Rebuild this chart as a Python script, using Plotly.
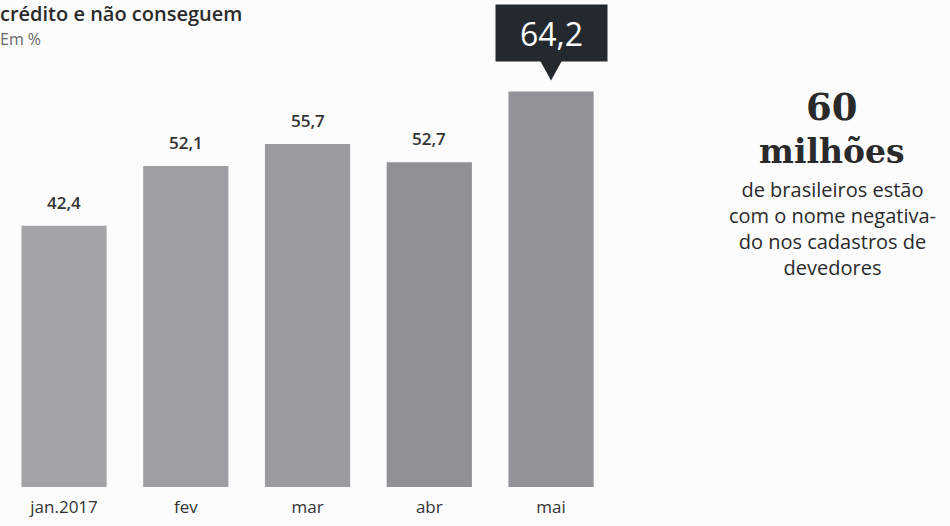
import plotly.graph_objects as go

categories = ["jan.2017", "fev", "mar", "abr", "mai"]
values = [42.4, 52.1, 55.7, 52.7, 64.2]
value_labels = ["42,4", "52,1", "55,7", "52,7", "64,2"]
bar_colors = ["#a2a4a8", "#9d9fa2", "#9a9c9f", "#909195", "#929398"]
highlight_index = 4

title_text = "crédito e não conseguem"
unit_text = "Em %"
side_number = "60"
side_unit = "milhões"
side_lines = ["de brasileiros estão", "com o nome negativa-", "do nos cadastros de", "devedores"]

W, H = 950, 526
ML, MR, MT, MB = 0, 310, 0, 39
PW, PH = W - ML - MR, H - MT - MB


def px(x):
    return (x - ML) / PW


def py(y):
    return 1 - (y - MT) / PH


fig = go.Figure()
fig.add_trace(go.Bar(
    x=categories, y=values,
    marker=dict(color=bar_colors, line=dict(width=0)),
    width=0.70, hoverinfo="skip",
))

annotations = []
for i, (c, v, lab) in enumerate(zip(categories, values, value_labels)):
    if i == highlight_index:
        annotations.append(dict(
            x=c, y=v, xref="x", yref="y", text=lab, showarrow=False,
            yanchor="bottom", yshift=30, width=103, height=48, borderpad=4,
            bgcolor="#23292e",
            font=dict(family="Open Sans", size=32, color="#ffffff"),
        ))
    else:
        annotations.append(dict(
            x=c, y=v, xref="x", yref="y", text=lab, showarrow=False,
            yanchor="bottom", yshift=10,
            font=dict(family="Open Sans", size=17, color="#333333", weight=600),
        ))

big_text = ("<span style='font-size:37px'><b>" + side_number + "</b></span><br>"
            "<span style='font-size:33px'><b>" + side_unit + "</b></span>")

annotations += [
    dict(x=px(0), y=py(13), xref="paper", yref="paper", text=title_text, showarrow=False,
         xanchor="left", yanchor="middle", xshift=-2,
         font=dict(family="Open Sans", size=20, color="#2a2a2a", weight=600)),
    dict(x=px(0), y=py(39), xref="paper", yref="paper", text=unit_text, showarrow=False,
         xanchor="left", yanchor="middle", xshift=-2,
         font=dict(family="Open Sans", size=16, color="#666666")),
    dict(x=px(832), y=py(128), xref="paper", yref="paper", text=big_text, showarrow=False,
         xanchor="center", yanchor="middle", align="center",
         font=dict(family="DejaVu Serif", size=33, color="#2a2a2a")),
    dict(x=px(832), y=py(228), xref="paper", yref="paper", text="<br>".join(side_lines), showarrow=False,
         xanchor="center", yanchor="middle", align="center",
         font=dict(family="Open Sans", size=20, color="#2a2a2a")),
]

# pointer triangle under the highlighted label
shapes = [dict(
    type="path", xref="x", yref="y",
    xsizemode="pixel", ysizemode="pixel",
    xanchor=highlight_index, yanchor=values[highlight_index],
    path="M -11,31 L 11,31 L 0,11 Z",
    fillcolor="#23292e", line=dict(width=0),
)]

fig.update_layout(
    width=W, height=H,
    margin=dict(l=ML, r=MR, t=MT, b=MB, pad=0),
    paper_bgcolor="#fcfcfd", plot_bgcolor="#fcfcfd",
    showlegend=False,
    annotations=annotations,
    shapes=shapes,
    bargap=0.3,
    xaxis=dict(type="category", range=[-0.526, PW / 121.75 - 0.526],
               showgrid=False, zeroline=False, showline=False, ticks="",
               tickfont=dict(family="Open Sans", size=17, color="#333333"),
               ticklabelstandoff=8, fixedrange=True),
    yaxis=dict(range=[0, PH / 6.16], visible=False, showgrid=False, zeroline=False, fixedrange=True),
)

fig.write_html("out.html", config={"displayModeBar": False})
